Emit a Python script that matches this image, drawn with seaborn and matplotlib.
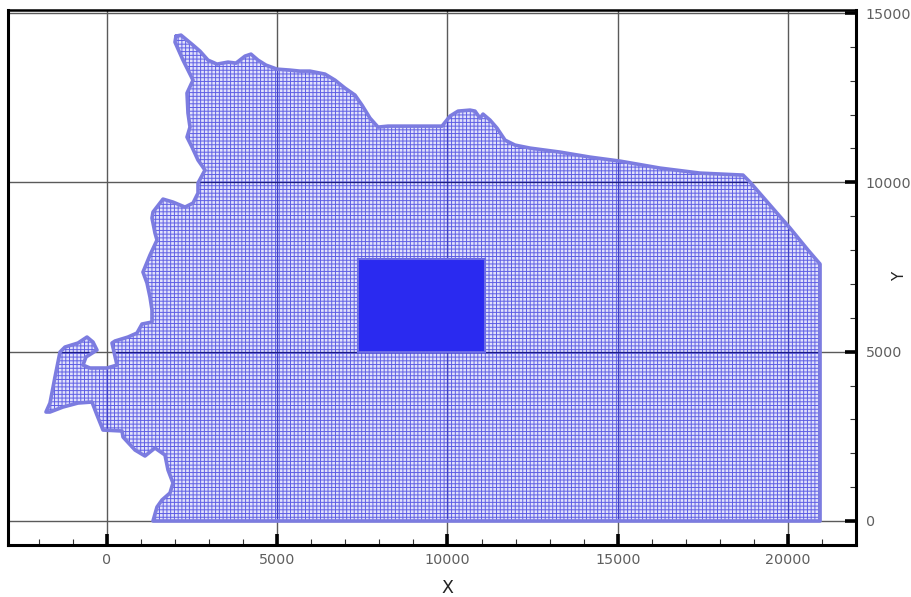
import numpy as np
import pandas as pd
import matplotlib
matplotlib.use("Agg")
import matplotlib.pyplot as plt
from matplotlib.patches import Polygon
from matplotlib.ticker import MultipleLocator
import seaborn as sns

# Domain outline, clockwise from the northern tip
outline_x = [2026, 2173, 2350, 2526, 2731, 2966, 3231, 3554, 3789, 4053, 4229, 4435, 4670, 4993,
             5375, 5668, 5962, 6403, 6696, 6990, 7284, 7489, 7724, 7959, 8253, 9193, 9839, 10074,
             10309, 10661, 10808, 10955, 11043, 11249, 11454, 11689, 11983, 12423, 13305, 14186,
             15067, 16242, 17416, 18679, 18885, 19472, 20060, 20588, 20941, 20941, 1351, 1469,
             1615, 1850, 1938, 1792, 1703, 1410, 1116, 822, 470, 441, -117, -294, -441, -852,
             -1292, -1674, -1792, -1674, -1527, -1380, -1234, -852, -587, -411, -294, -617, -705,
             -499, 0, 294, 147, 235, 617, 881, 1028, 1322, 1322, 1263, 1175, 1057, 1263, 1469,
             1410, 1322, 1351, 1645, 1938, 2291, 2526, 2673, 2673, 2878, 2673, 2497, 2350, 2438,
             2379, 2350, 2526, 2232, 1997, 2026]
outline_y = [14317, 14347, 14199, 14052, 13874, 13609, 13491, 13550, 13520, 13727, 13786, 13609,
             13461, 13343, 13314, 13284, 13284, 13196, 13018, 12782, 12576, 12280, 11897, 11631,
             11660, 11660, 11660, 11956, 12103, 12133, 12103, 11897, 12015, 11838, 11601, 11247,
             11100, 11011, 10893, 10745, 10627, 10421, 10273, 10214, 10007, 9328, 8649, 8000, 7587,
             0, 0, 413, 620, 827, 1122, 1506, 1948, 2155, 1919, 2096, 2480, 2657, 2686, 3129, 3513,
             3483, 3365, 3218, 3218, 3483, 4251, 4989, 5136, 5255, 5432, 5284, 5048, 4841, 4605,
             4517, 4517, 4605, 5255, 5314, 5432, 5550, 5816, 5875, 6229, 6612, 7026, 7350, 7852,
             8295, 8502, 8945, 9122, 9505, 9417, 9269, 9387, 9683, 9978, 10362, 10657, 11040,
             11336, 11631, 12044, 12635, 13018, 13609, 14140, 14317]

# Refined block in the middle of the mesh
block_x = [7370, 11100, 11100, 7370]
block_y = [4990, 4990, 7735, 7735]

cell_size = 110
x_ticks = [0, 5000, 10000, 15000, 20000]
y_ticks = [0, 5000, 10000, 15000]

mesh_color = "#5c5ce4"
outline_color = "#7c7ce0"

sns.set_style("white")
fig = plt.figure(figsize=(9.12, 5.97), dpi=100)
ax = fig.add_axes([8 / 912, 1 - 545 / 597, 848 / 912, 535 / 597])

ax.grid(True, color="#5a5a5a", lw=1, zorder=1)
ax.set_axisbelow(True)

# Pale base stands in for the blur between the mesh lines
domain = Polygon(np.column_stack([outline_x, outline_y]), transform=ax.transData, fc="#e2e2fb", ec="none", zorder=1.5)
ax.add_patch(domain)

# Mesh lines are clipped to the domain outline
mesh_x = np.arange(-1870, 21000, cell_size)
mesh_y = np.arange(0, 14400, cell_size)
v = ax.vlines(mesh_x, 0, 14400, color=mesh_color, lw=0.7, zorder=2)
h = ax.hlines(mesh_y, -1900, 21000, color=mesh_color, lw=0.7, zorder=2)
v.set_clip_path(domain)
h.set_clip_path(domain)
v.set_snap(False)
h.set_snap(False)

# Grid lines look blue / navy where they cross the mesh
v2 = ax.vlines(x_ticks, 0, 14400, color="#4040c4", lw=0.9, zorder=3)
h2 = ax.hlines(y_ticks[1:3], -1900, 21000, color="#1c1c80", lw=0.9, zorder=3)
v2.set_clip_path(domain)
h2.set_clip_path(domain)

line = sns.lineplot(x=outline_x, y=outline_y, sort=False, estimator=None, color=outline_color, lw=2.6, ax=ax, zorder=4)
line.lines[-1].set_solid_joinstyle("round")
ax.fill(block_x, block_y, color="#2a2af0", ec="#6a6ae6", lw=1.5, zorder=5)

ax.set_xlim(-2907, 21997)
ax.set_ylim(-709, 15089)

ax.set_xticks(x_ticks)
ax.set_yticks(y_ticks)
ax.xaxis.set_minor_locator(MultipleLocator(1000))
ax.yaxis.set_minor_locator(MultipleLocator(1000))
ax.yaxis.tick_right()
ax.tick_params(which="major", direction="in", length=8, width=2.6, color="black", labelsize=10.3,
               labelcolor="#5f5f5f")
ax.tick_params(which="minor", direction="in", length=4.5, width=0.8, color="#333333")
ax.tick_params(axis="x", which="major", pad=6)
ax.tick_params(axis="y", which="major", pad=7)
ax.tick_params(axis="x", which="both", bottom=True, top=False)
ax.tick_params(axis="y", which="both", right=True, left=False)

for name, width in [("left", 2.2), ("bottom", 2.2), ("right", 2.2), ("top", 1.8)]:
    ax.spines[name].set_linewidth(width)
    ax.spines[name].set_color("black")

ax.set_xlabel("X", fontsize=12.5, color="#222222")
ax.xaxis.set_label_coords(439 / 848, -0.064)
ax.yaxis.set_label_position("right")
ax.set_ylabel("Y", fontsize=11, color="#222222", rotation=90, va="center", ha="center")
ax.yaxis.set_label_coords(892 / 848, 0.503)

fig.savefig("out.png", dpi=100)
